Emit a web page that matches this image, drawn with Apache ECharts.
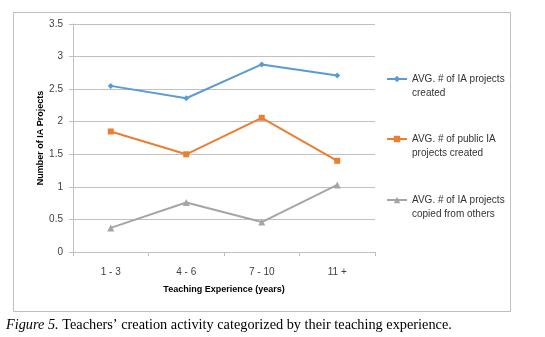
<!DOCTYPE html>
<html><head><meta charset="utf-8">
<script src="https://cdn.jsdelivr.net/npm/echarts@6/dist/echarts.min.js"></script>
<style>html,body{margin:0;padding:0;background:#fff}#c{width:545px;height:337px}</style>
</head><body><div id="c"></div>
<script>
const categories = ['1 - 3', '4 - 6', '7 - 10', '11 +'];
const seriesNames = ['AVG. # of IA projects\ncreated', 'AVG. # of public IA\nprojects created', 'AVG. # of IA projects\ncopied from others'];
const created = [2.55, 2.36, 2.88, 2.71];
const publicCreated = [1.85, 1.50, 2.06, 1.40];
const copied = [0.37, 0.76, 0.46, 1.03];
const yTicks = [0, 0.5, 1, 1.5, 2, 2.5, 3, 3.5];
const captionItalic = 'Figure 5.';
const captionText = ' Teachers\u2019 creation activity categorized by their teaching experience.';

const colors = ['#5B9BD5', '#ED7D31', '#A5A5A5'];
const symbols = ['diamond', 'rect', 'triangle'];
const symbolSizes = [6, 6, 7];
const values = [created, publicCreated, copied];
const font = 'Liberation Sans, Arial, sans-serif';

const chart = echarts.init(document.getElementById('c'), null, {renderer: 'canvas'});
const legendTops = [58, 118, 179];
chart.setOption({
  backgroundColor: '#fff',
  animation: false,
  title: {
    text: '{i|' + captionItalic + '}' + captionText,
    left: 6, top: 318, padding: 0,
    textStyle: {
      fontFamily: 'Liberation Serif, Times New Roman, serif', fontSize: 14.3, fontWeight: 'normal', color: '#000',
      rich: { i: { fontStyle: 'italic', fontFamily: 'Liberation Serif, Times New Roman, serif', fontSize: 14.3, color: '#000' } }
    }
  },
  graphic: [{
    type: 'rect', shape: {x: 13.5, y: 12.5, width: 497, height: 299},
    style: {fill: null, stroke: '#bfbfbf', lineWidth: 1}, silent: true, z: -1
  }],
  legend: seriesNames.map((n, i) => ({
    data: [n], left: 386, top: legendTops[i], orient: 'vertical', padding: 0,
    itemWidth: 20, itemHeight: 8, itemGap: 0,
    formatter: name => '\n' + name,
    textStyle: {fontFamily: font, fontSize: 10, color: '#333', lineHeight: 14}
  })),
  grid: {left: 73, right: 170, top: 24, bottom: 85},
  xAxis: {
    type: 'category', data: categories, boundaryGap: true,
    axisLine: {lineStyle: {color: '#bfbfbf'}},
    axisTick: {show: true, length: 4, lineStyle: {color: '#bfbfbf'}},
    axisLabel: {fontFamily: font, fontSize: 10, color: '#404040', margin: 15},
    name: 'Teaching Experience (years)', nameLocation: 'middle', nameGap: 33, nameMoveOverlap: false,
    nameTextStyle: {fontFamily: font, fontSize: 9, fontWeight: 'bold', color: '#000'}
  },
  yAxis: {
    type: 'value', min: 0, max: 3.5, interval: 0.5,
    axisLine: {show: true, lineStyle: {color: '#bfbfbf'}},
    axisTick: {show: true, length: 4, lineStyle: {color: '#bfbfbf'}},
    splitLine: {lineStyle: {color: '#c0c0c0'}},
    axisLabel: {fontFamily: font, fontSize: 10, color: '#404040', margin: 10,
      formatter: v => { const t = yTicks.find(y => Math.abs(y - v) < 1e-9); return t === undefined ? '' : String(t); }},
    name: 'Number of IA Projects', nameLocation: 'middle', nameGap: 28, nameMoveOverlap: false,
    nameTextStyle: {fontFamily: font, fontSize: 9, fontWeight: 'bold', color: '#000'}
  },
  series: seriesNames.map((n, i) => ({
    name: n, type: 'line', data: values[i],
    symbol: symbols[i], symbolSize: symbolSizes[i], showSymbol: true,
    lineStyle: {color: colors[i], width: 2},
    itemStyle: {color: colors[i]}
  }))
});
</script></body></html>
